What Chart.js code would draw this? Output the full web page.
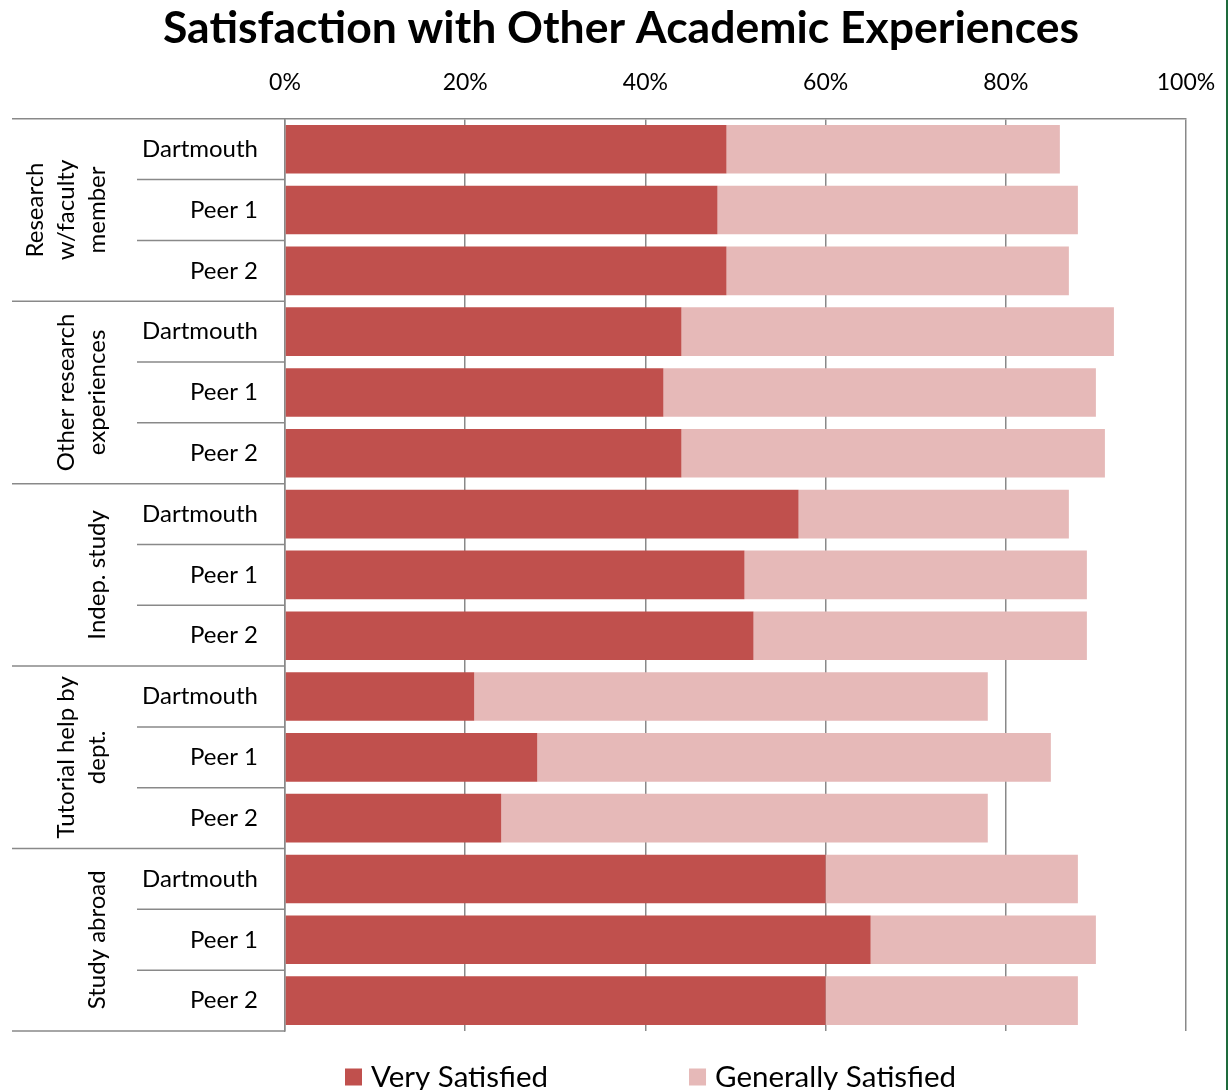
<!DOCTYPE html>
<html><head><meta charset="utf-8">
<script src="https://cdn.jsdelivr.net/npm/chart.js@4.4.0/dist/chart.umd.min.js"></script>
<style>
html,body{margin:0;padding:0;background:#fff;}
#wrap{position:relative;width:1231px;height:1090px;overflow:hidden;}
#c{display:block;}
#edge{position:absolute;left:1226px;top:0;width:2px;height:1090px;background:#1e6b3c;}
</style></head><body>
<div id="wrap"><canvas id="c" width="1231" height="1090"></canvas><div id="edge"></div></div>
<script>
const chartTitle = 'Satisfaction with Other Academic Experiences';
const groups = [['Research','w/faculty','member'],['Other research','experiences'],['Indep. study'],['Tutorial help by','dept.'],['Study abroad']];
const institutions = ['Dartmouth','Peer 1','Peer 2'];
const seriesNames = ['Very Satisfied','Generally Satisfied'];
const verySatisfied =      [49,48,49, 44,42,44, 57,51,52, 21,28,24, 60,65,60];
const generallySatisfied = [37,40,38, 48,48,47, 30,38,37, 57,57,54, 28,25,28];
const xTicks = [0,20,40,60,80,100];

const seriesColors = ['#C0504D','#E6B9B8'];
const FONT = 'Lato';
const labels = [];
groups.forEach(() => institutions.forEach(n => labels.push(n)));

const groupPlugin = {
  id: 'groupLabels',
  afterDraw(chart) {
    const {ctx, chartArea: a, scales: {y}} = chart;
    const n = labels.length;
    const bound = i => i === 0 ? a.top : (i === n ? a.bottom : (y.getPixelForValue(i - 1) + y.getPixelForValue(i)) / 2);
    ctx.save();
    ctx.strokeStyle = '#898989';
    ctx.lineWidth = 1.5;
    const hline = (x1, yy, x2) => { ctx.beginPath(); ctx.moveTo(x1, yy); ctx.lineTo(x2, yy); ctx.stroke(); };
    let idx = 0;
    ctx.fillStyle = '#000';
    ctx.font = '24px ' + FONT;
    ctx.textAlign = 'center';
    ctx.textBaseline = 'middle';
    groups.forEach(g => {
      const start = idx, end = idx + institutions.length;
      hline(12, bound(start), a.left);
      for (let k = start + 1; k < end; k++) hline(137, bound(k), a.left);
      const cy = (bound(start) + bound(end)) / 2;
      ctx.save();
      ctx.translate(0, cy);
      ctx.rotate(-Math.PI / 2);
      const L = g.length;
      g.forEach((t, k) => ctx.fillText(t, 0, 97 - 31 * (L - 1 - k)));
      ctx.restore();
      idx = end;
    });
    hline(12, bound(n), a.left);
    // legend
    ctx.font = '29.5px ' + FONT;
    ctx.textAlign = 'left';
    const ly = 1077;
    let x = 345;
    chart.data.datasets.forEach((ds, i) => {
      ctx.fillStyle = ds.backgroundColor;
      ctx.fillRect(x, ly - 8.5, 17, 17);
      ctx.fillStyle = '#000';
      ctx.fillText(ds.label, x + 26, ly);
      x += 26 + ctx.measureText(ds.label).width + 141;
    });
    ctx.restore();
  }
};

new Chart(document.getElementById('c'), {
  type: 'bar',
  data: {
    labels: labels,
    datasets: [
      {label: seriesNames[0], data: verySatisfied, backgroundColor: seriesColors[0], barPercentage: 0.8, categoryPercentage: 1},
      {label: seriesNames[1], data: generallySatisfied, backgroundColor: seriesColors[1], barPercentage: 0.8, categoryPercentage: 1}
    ]
  },
  options: {
    responsive: false,
    animation: false,
    indexAxis: 'y',
    layout: {padding: {left: 56, right: 45, top: 0, bottom: 59}},
    plugins: {
      legend: {display: false},
      tooltip: {enabled: false},
      title: {display: true, text: chartTitle, color: '#000',
        font: {family: FONT, size: 44.5, weight: 'bold', lineHeight: 1.2}, padding: {top: 2, bottom: 0}}
    },
    scales: {
      x: {
        position: 'top', stacked: true, min: 0, max: 100,
        afterBuildTicks(s) { s.ticks = xTicks.map(v => ({value: v})); },
        ticks: {callback: v => v + '%', color: '#000', font: {family: FONT, size: 23}, padding: 2, maxRotation: 0},
        grid: {color: '#898989', lineWidth: 1.5, drawTicks: true, tickLength: 20, tickColor: 'rgba(0,0,0,0)'},
        border: {display: true, color: '#898989', width: 1.5},
        afterFit(s) { s.height = 63.4; }
      },
      y: {
        stacked: true,
        ticks: {color: '#000', font: {family: FONT, size: 24}, padding: 27, autoSkip: false},
        grid: {display: false, drawTicks: false},
        border: {display: true, color: '#898989', width: 1.5},
        afterFit(s) { s.width = 229; }
      }
    }
  },
  plugins: [groupPlugin]
});
</script>
</body></html>
